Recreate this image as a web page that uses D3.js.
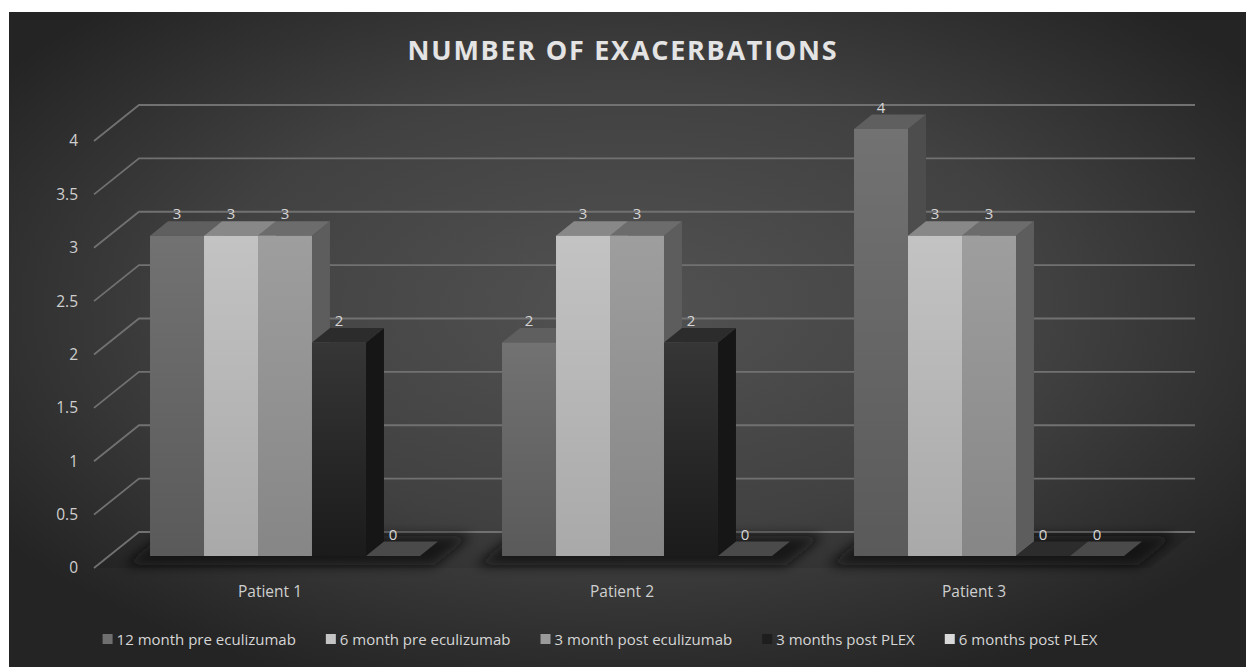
<!DOCTYPE html>
<html>
<head>
<meta charset="utf-8">
<script src="https://cdn.jsdelivr.net/npm/d3@7"></script>
<style>
  html, body { margin: 0; padding: 0; background: #ffffff; }
  svg { display: block; }
  text { font-family: "Open Sans", "Noto Sans", sans-serif; }
</style>
</head>
<body>
<svg id="chart" width="1246" height="667"></svg>
<script>
// ---- data ----
const patients = ["Patient 1", "Patient 2", "Patient 3"];
const seriesNames = [
  "12 month pre eculizumab",
  "6 month pre eculizumab",
  "3 month post eculizumab",
  "3 months post PLEX",
  "6 months post PLEX"
];
const pre12Eculizumab = [3, 2, 4];
const pre6Eculizumab  = [3, 3, 3];
const post3Eculizumab = [3, 3, 3];
const post3Plex       = [2, 2, 0];
const post6Plex       = [0, 0, 0];
const yTicks = [0, 0.5, 1, 1.5, 2, 2.5, 3, 3.5, 4];

const seriesValues = [pre12Eculizumab, pre6Eculizumab, post3Eculizumab, post3Plex, post6Plex];

// ---- per-series shading (front gradient top/bottom, top face, side face, legend swatch) ----
const shades = [
  { fTop: "#727272", fBot: "#5a5a5a", top: "#5f5f5f", side: "#4d4d4d", key: "#6f6f6f" },
  { fTop: "#c3c3c3", fBot: "#a9a9a9", top: "#888888", side: "#8a8a8a", key: "#c4c4c4" },
  { fTop: "#9e9e9e", fBot: "#868686", top: "#6c6c6c", side: "#5d5d5d", key: "#9a9a9a" },
  { fTop: "#363636", fBot: "#1b1b1b", top: "#2c2c2c", side: "#161616", key: "#1e1e1e" },
  { fTop: "#d0d0d0", fBot: "#b8b8b8", top: "#4a4a4a", side: "#3a3a3a", key: "#d9d9d9" }
];

const W = 1246, H = 667;
const svg = d3.select("#chart");
const defs = svg.append("defs");

// ---- background ----
const bg = defs.append("radialGradient").attr("id", "bgGrad")
  .attr("cx", 0.5).attr("cy", 0.45).attr("r", 0.62);
bg.append("stop").attr("offset", 0).attr("stop-color", "#525252");
bg.append("stop").attr("offset", 0.55).attr("stop-color", "#414141");
bg.append("stop").attr("offset", 1).attr("stop-color", "#242424");
svg.append("rect").attr("x", 9).attr("y", 12).attr("width", W - 9).attr("height", H - 12)
  .attr("fill", "url(#bgGrad)");

// ---- 3D frame: front plane x/y plus an oblique depth offset ----
const depthDX = 45, depthDY = -36;
const x0 = d3.scaleBand().domain(patients).range([94, 1150]);
const x1 = d3.scaleBand().domain(seriesNames).range([0, x0.bandwidth()])
  .paddingInner(0).paddingOuter(0.76);
const y = d3.scaleLinear().domain([0, 4]).range([568, 141]);
const proj = (x, v, f) => [x + depthDX * f, y(v) + depthDY * f];
const pts = arr => arr.map(p => p.join(",")).join(" ");

const barF0 = 1 / 3, barF1 = 0.733;

// ---- floor (faint) ----
svg.append("polygon")
  .attr("points", pts([proj(94, 0, 0), proj(1150, 0, 0), proj(1150, 0, 1), proj(94, 0, 1)]))
  .attr("fill", "#000").attr("opacity", 0.08);

// ---- gridlines: side wall diagonal + back wall horizontal ----
const grid = svg.append("g");
yTicks.forEach(v => {
  grid.append("polyline")
    .attr("points", pts([proj(94, v, 0), proj(94, v, 1), proj(1150, v, 1)]))
    .attr("fill", "none").attr("stroke", "#717171").attr("stroke-width", 1.8);
});

// ---- soft shadows under each cluster ----
const blur = defs.append("filter").attr("id", "shadowBlur")
  .attr("x", "-20%").attr("y", "-150%").attr("width", "140%").attr("height", "400%");
blur.append("feGaussianBlur").attr("stdDeviation", 6);
const shadows = svg.append("g").attr("filter", "url(#shadowBlur)");
patients.forEach(p => {
  const xl = x0(p) + x1(seriesNames[0]) - 14;
  const xr = x0(p) + x1(seriesNames[seriesNames.length - 1]) + x1.bandwidth() + 26;
  shadows.append("polygon")
    .attr("points", pts([proj(xl, 0, 0.06), proj(xr, 0, 0.06), proj(xr, 0, 0.9), proj(xl, 0, 0.9)]))
    .attr("fill", "#0b0b0b").attr("opacity", 0.8);
});

// ---- bars ----
shades.forEach((s, i) => {
  const g = defs.append("linearGradient").attr("id", "front" + i)
    .attr("x1", 0).attr("y1", 0).attr("x2", 0).attr("y2", 1);
  g.append("stop").attr("offset", 0).attr("stop-color", s.fTop);
  g.append("stop").attr("offset", 1).attr("stop-color", s.fBot);
});

const bars = svg.append("g");
const labels = [];
patients.forEach((p, pi) => {
  seriesNames.forEach((sName, si) => {
    const v = seriesValues[si][pi];
    const xl = x0(p) + x1(sName);
    const xr = xl + x1.bandwidth();
    const s = shades[si];
    if (v > 0) {
      bars.append("polygon")
        .attr("points", pts([proj(xr, 0, barF0), proj(xr, 0, barF1), proj(xr, v, barF1), proj(xr, v, barF0)]))
        .attr("fill", s.side);
    }
    bars.append("polygon")
      .attr("points", pts([proj(xl, v, barF0), proj(xr, v, barF0), proj(xr, v, barF1), proj(xl, v, barF1)]))
      .attr("fill", s.top);
    if (v > 0) {
      bars.append("polygon")
        .attr("points", pts([proj(xl, 0, barF0), proj(xr, 0, barF0), proj(xr, v, barF0), proj(xl, v, barF0)]))
        .attr("fill", "url(#front" + si + ")");
    }
    const c = proj((xl + xr) / 2, v, barF0);
    const b = proj((xl + xr) / 2, v, barF1);
    labels.push({ x: c[0], y: b[1] - 8, v });
  });
});

// ---- data labels ----
svg.append("g").selectAll("text").data(labels).join("text")
  .attr("x", d => d.x).attr("y", d => d.y)
  .attr("text-anchor", "middle").attr("dominant-baseline", "central")
  .attr("font-size", 15).attr("fill", "#d6d6d6")
  .text(d => d.v);

// ---- value axis (labels at the front edge of the side wall) ----
const yAxis = svg.append("g").attr("transform", "translate(86,0)")
  .call(d3.axisLeft(y).tickValues(yTicks).tickSize(0).tickPadding(8).tickFormat(d3.format("")));
yAxis.select(".domain").remove();
yAxis.selectAll("text").attr("font-size", 15.5).attr("fill", "#cfcfcf")
  .style("font-family", "'Open Sans', sans-serif");

// ---- category axis ----
const xAxis = svg.append("g").attr("transform", "translate(0,583)")
  .call(d3.axisBottom(x0).tickSize(0).tickPadding(3));
xAxis.select(".domain").remove();
xAxis.selectAll("text").attr("font-size", 15.5).attr("fill", "#cfcfcf")
  .style("font-family", "'Open Sans', sans-serif");

// ---- title ----
const title = svg.append("text")
  .attr("x", 623).attr("y", 60)
  .attr("text-anchor", "middle")
  .attr("font-size", 27).attr("font-weight", "bold").attr("fill", "#e4e4e4")
  .text("NUMBER OF EXACERBATIONS");
{
  const target = 429, n = "NUMBER OF EXACERBATIONS".length;
  const w = title.node().getComputedTextLength();
  title.attr("letter-spacing", ((target - w) / (n - 1)).toFixed(2));
}

// ---- legend ----
const legend = svg.append("g");
const items = [];
let cursor = 0;
seriesNames.forEach((name, i) => {
  const g = legend.append("g");
  g.append("rect").attr("x", 0).attr("y", -5).attr("width", 10).attr("height", 10)
    .attr("fill", shades[i].key);
  const t = g.append("text").attr("x", 14).attr("y", 0)
    .attr("dominant-baseline", "central")
    .attr("font-size", 15).attr("fill", "#d6d6d6").text(name);
  const w = 14 + t.node().getComputedTextLength();
  items.push({ g, offset: cursor });
  cursor += w + 30;
});
const total = cursor - 30;
const start = 600 - total / 2;
items.forEach(it => it.g.attr("transform", `translate(${start + it.offset},639)`));
</script>
</body>
</html>
